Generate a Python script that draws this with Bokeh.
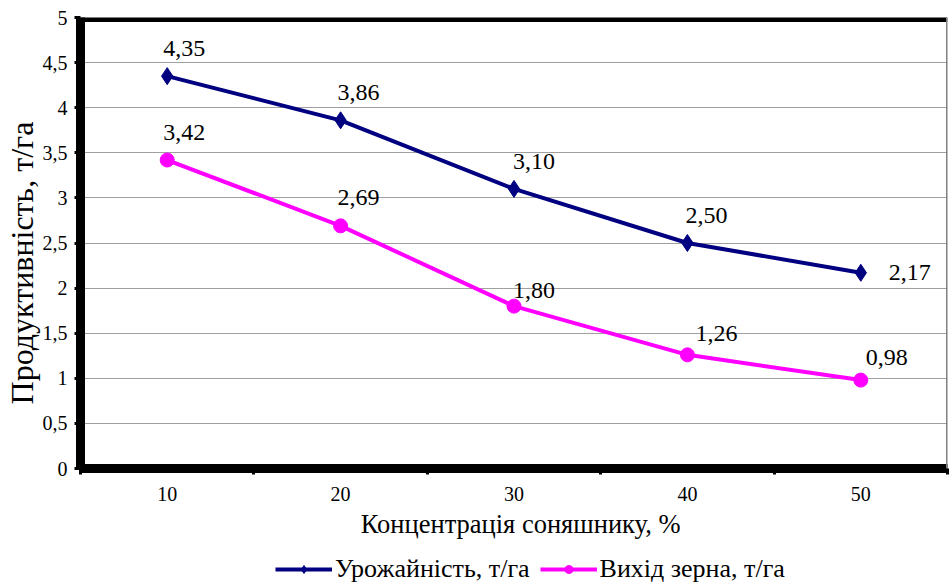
from bokeh.plotting import figure
from bokeh.layouts import column
from bokeh.models import FixedTicker, Span, Legend, LegendItem, ColumnDataSource, Range1d, Text
from bokeh.core.properties import value
from bokeh.embed import file_html
from bokeh.resources import INLINE

concentration = ["10", "20", "30", "40", "50"]
yield_t = [4.35, 3.86, 3.10, 2.50, 2.17]
grain_t = [3.42, 2.69, 1.80, 1.26, 0.98]
y_ticks = [0, 0.5, 1, 1.5, 2, 2.5, 3, 3.5, 4, 4.5, 5]
name_yield = "Урожайність, т/га"
name_grain = "Вихід зерна, т/га"
x_title = "Концентрація соняшнику, %"
y_title = "Продуктивність, т/га"

FONT = "Liberation Serif"
NAVY = "#000080"
MAG = "#FF00FF"
NBSP = "\u00a0"

xs = [i + 0.5 for i in range(len(concentration))]

def fmt(v):
    return ("%.2f" % v).replace(".", ",")

p = figure(width=949, height=548, output_backend="svg", toolbar_location=None,
           x_range=Range1d(0, len(concentration)), y_range=Range1d(0, 5),
           min_border_left=79, min_border_right=2, min_border_top=17, min_border_bottom=80)
p.outline_line_color = None
p.background_fill_color = "white"
p.border_fill_color = "white"

xa = p.xaxis[0]
ya = p.yaxis[0]

xa.ticker = FixedTicker(ticks=xs, minor_ticks=list(range(len(concentration) + 1)))
xa.major_label_overrides = {x: c for x, c in zip(xs, concentration)}
xa.major_tick_line_color = None
xa.minor_tick_line_color = "black"
xa.minor_tick_line_width = 3
xa.minor_tick_out = 6
xa.minor_tick_in = 0
xa.axis_line_width = 9
xa.axis_line_color = "black"
xa.major_label_text_font = FONT
xa.major_label_text_font_size = "20px"
xa.major_label_text_color = "black"
xa.major_label_standoff = 12
xa.axis_label = NBSP * 2 + x_title
xa.axis_label_text_font = FONT
xa.axis_label_text_font_size = "26.5px"
xa.axis_label_text_font_style = "normal"
xa.axis_label_text_color = "black"
xa.axis_label_standoff = 5

ya.ticker = FixedTicker(ticks=y_ticks, minor_ticks=[])
ya.major_label_overrides = {t: ("%g" % t).replace(".", ",") for t in y_ticks}
ya.major_tick_line_width = 3
ya.major_tick_line_color = "black"
ya.major_tick_out = 6
ya.major_tick_in = 0
ya.axis_line_width = 9
ya.axis_line_color = "black"
ya.major_label_text_font = FONT
ya.major_label_text_font_size = "20px"
ya.major_label_text_color = "black"
ya.major_label_standoff = 7
ya.axis_label = y_title + NBSP * 5
ya.axis_label_text_font = FONT
ya.axis_label_text_font_size = "32px"
ya.axis_label_text_font_style = "normal"
ya.axis_label_text_color = "black"
ya.axis_label_standoff = 0

p.xgrid.grid_line_color = None
p.ygrid.ticker = FixedTicker(ticks=y_ticks[1:-1])
p.ygrid.grid_line_color = "#A0A0A0"
p.ygrid.grid_line_width = 1.2

p.add_layout(Span(location=5, dimension="width", line_color="black", line_width=9))
p.add_layout(Span(location=len(concentration), dimension="height", line_color="#808080", line_width=3))

src1 = ColumnDataSource(dict(x=xs, y=yield_t, lab=[fmt(v) for v in yield_t]))
src2 = ColumnDataSource(dict(x=xs, y=grain_t, lab=[fmt(v) for v in grain_t]))
src1.data["dx"] = [17, 18, 20, 19, 49]
src1.data["dy"] = [-28, -28, -27, -28, 0]
src2.data["dx"] = [17, 18, 20, 29, 26]
src2.data["dy"] = [-28, -28, -16, -21, -23]

p.line("x", "y", source=src1, line_color=NAVY, line_width=4)
p.scatter("x", "y", source=src1, marker="diamond", size=17, fill_color=NAVY, line_color=NAVY)
p.line("x", "y", source=src2, line_color=MAG, line_width=4)
p.scatter("x", "y", source=src2, marker="circle", size=14, fill_color=MAG, line_color=MAG)

for s in (src1, src2):
    g = Text(x="x", y="y", text="lab", x_offset="dx", y_offset="dy",
             text_font=value(FONT), text_font_size="24px", text_align="center",
             text_baseline="middle", text_color="black")
    p.add_glyph(s, g)

# legend strip (same series, drawn outside its visible range so only the legend shows)
p2 = figure(width=949, height=37, output_backend="svg", toolbar_location=None,
            x_range=Range1d(100, 101), y_range=Range1d(100, 101),
            x_axis_location=None, y_axis_location=None,
            min_border_left=0, min_border_right=0, min_border_top=0, min_border_bottom=0)
p2.grid.grid_line_color = None
p2.outline_line_color = None
p2.border_fill_color = "white"
p2.background_fill_color = "white"
d1 = p2.line("x", "y", source=src1, line_color=NAVY, line_width=4)
k1 = p2.scatter("x", "y", source=src1, marker="diamond", size=16, fill_color=NAVY, line_color=NAVY)
d2 = p2.line("x", "y", source=src2, line_color=MAG, line_width=4)
k2 = p2.scatter("x", "y", source=src2, marker="circle", size=13, fill_color=MAG, line_color=MAG)

legend = Legend(items=[LegendItem(label=name_yield, renderers=[d1, k1]),
                       LegendItem(label=name_grain, renderers=[d2, k2])],
                orientation="horizontal", location=(195, 1),
                label_text_font=FONT, label_text_font_size="26px", label_text_color="black",
                glyph_width=57, glyph_height=20, label_standoff=3, spacing=10,
                border_line_color=None, background_fill_alpha=0, padding=0, margin=0)
p2.add_layout(legend, "center")

layout = column(p, p2, spacing=0)
open("out.html", "w").write(file_html(layout, INLINE))
